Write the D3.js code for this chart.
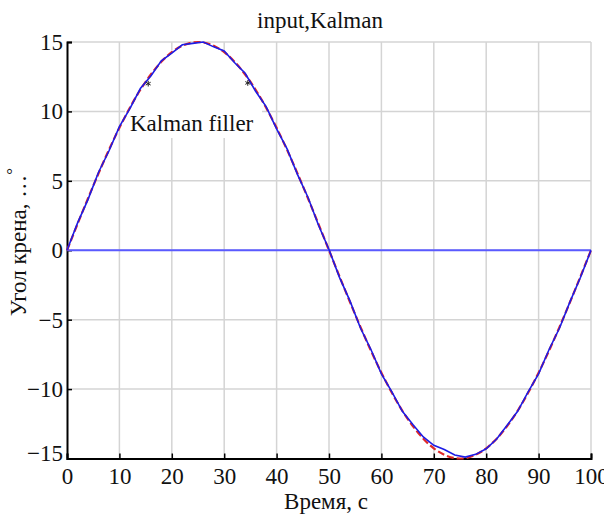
<!DOCTYPE html>
<html>
<head>
<meta charset="utf-8">
<script src="https://cdn.jsdelivr.net/npm/d3@7"></script>
<style>
  body { margin: 0; background: #fff; }
  text { font-family: "Liberation Serif", "Times New Roman", Times, serif; fill: #111; }
</style>
</head>
<body>
<div id="chart"></div>
<script>
(function(d3) {
  'use strict';

  // time, s (every 2 s)
  var times = [0, 2, 4, 6, 8, 10, 12, 14, 16, 18, 20, 22, 24, 26, 28, 30, 32, 34, 36, 38, 40,
               42, 44, 46, 48, 50, 52, 54, 56, 58, 60, 62, 64, 66, 68, 70, 72, 74, 76, 78, 80,
               82, 84, 86, 88, 90, 92, 94, 96, 98, 100];
  // input (red dashed)
  var input = [0, 1.88, 3.73, 5.52, 7.23, 8.82, 10.27, 11.56, 12.66, 13.57, 14.27, 14.73, 14.97, 14.97, 14.73, 14.27,
               13.57, 12.66, 11.56, 10.27, 8.82, 7.23, 5.52, 3.73, 1.88, 0, -1.88, -3.73, -5.52, -7.23, -8.82,
               -10.27, -11.56, -12.66, -13.57, -14.27, -14.73, -14.97, -14.97, -14.73, -14.27, -13.57, -12.66,
               -11.56, -10.27, -8.82, -7.23, -5.52, -3.73, -1.88, 0];
  // Kalman output (blue)
  var kalman = [0, 1.95, 3.65, 5.6, 7.15, 8.9, 10.2, 11.65, 12.55, 13.65, 14.2, 14.8, 14.9, 15.0, 14.65, 14.35,
                13.5, 12.75, 11.45, 10.35, 8.75, 7.3, 5.45, 3.8, 1.8, 0.05, -1.95, -3.65, -5.6, -7.15, -8.9,
                -10.2, -11.6, -12.55, -13.45, -14.05, -14.35, -14.75, -14.9, -14.7, -14.3, -13.6, -12.6,
                -11.6, -10.2, -8.9, -7.15, -5.6, -3.7, -1.95, 0];
  var zeroLine = [[0, 0], [100, 0]];
  var markers = [[15.5, 12.0], [34.5, 12.05]];
  var xTicks = [0, 10, 20, 30, 40, 50, 60, 70, 80, 90, 100];
  var yTicks = [-15, -10, -5, 0, 5, 10, 15];

  var width = 604, height = 515;
  var margin = {left: 67, right: 13, top: 42, bottom: 56};

  var svg = d3.select('#chart').append('svg')
      .attr('width', width)
      .attr('height', height);

  var x = d3.scaleLinear().domain([0, 100]).range([margin.left, width - margin.right]);
  var y = d3.scaleLinear().domain([-15, 15]).range([height - margin.bottom - 0.5, margin.top]);

  // grid
  svg.append('g')
    .selectAll('line')
    .data(xTicks.slice(1))
    .enter().append('line')
      .attr('x1', function(d) { return x(d); })
      .attr('x2', function(d) { return x(d); })
      .attr('y1', y(15))
      .attr('y2', y(-15))
      .attr('stroke', '#d4d4d4')
      .attr('stroke-width', 1.5);

  svg.append('g')
    .selectAll('line')
    .data(yTicks.slice(1))
    .enter().append('line')
      .attr('x1', x(0))
      .attr('x2', x(100))
      .attr('y1', function(d) { return y(d); })
      .attr('y2', function(d) { return y(d); })
      .attr('stroke', '#d4d4d4')
      .attr('stroke-width', 1.5);

  // white patch round the label
  svg.append('rect')
    .attr('x', 125).attr('y', 50)
    .attr('width', 137).attr('height', 88)
    .attr('fill', '#fff');

  // axes
  svg.append('g')
    .attr('transform', 'translate(0,' + y(-15) + ')')
    .call(d3.axisBottom(x).tickValues(xTicks).tickSize(-5).tickPadding(9).tickFormat(d3.format('d')))
    .call(function(g) {
      g.select('.domain').attr('stroke', '#000').attr('stroke-width', 2);
      g.selectAll('.tick line').attr('stroke', '#000').attr('stroke-width', 1.5);
      g.selectAll('.tick text')
        .attr('font-size', 23)
        .attr('fill', '#111');
    });

  svg.append('g')
    .attr('transform', 'translate(' + x(0) + ',0)')
    .call(d3.axisLeft(y).tickValues(yTicks).tickSize(-5).tickPadding(4)
      .tickFormat(function(d) { return d < 0 ? '\u2212' + Math.abs(d) : d; }))
    .call(function(g) {
      g.select('.domain').attr('stroke', '#000').attr('stroke-width', 2);
      g.selectAll('.tick line').attr('stroke', '#000').attr('stroke-width', 1.5);
      g.selectAll('.tick text')
        .attr('font-size', 23)
        .attr('fill', '#111')
        .attr('dy', function(d) { return d === -15 ? '0.1em' : '0.32em'; });
    });

  var line = d3.line()
      .x(function(d) { return x(d[0]); })
      .y(function(d) { return y(d[1]); });

  svg.append('path')
    .attr('d', line(zeroLine))
    .attr('fill', 'none')
    .attr('stroke', '#5a5aff')
    .attr('stroke-width', 2);

  svg.append('path')
    .attr('d', line.curve(d3.curveCatmullRom)(times.map(function(t, i) { return [t, input[i]]; })))
    .attr('fill', 'none')
    .attr('stroke', '#e02828')
    .attr('stroke-width', 2.2)
    .attr('stroke-dasharray', '7,3');

  svg.append('path')
    .attr('d', line.curve(d3.curveLinear)(times.map(function(t, i) { return [t, kalman[i]]; })))
    .attr('fill', 'none')
    .attr('stroke', '#1c1ce6')
    .attr('stroke-width', 1.6);

  svg.append('g')
    .selectAll('path')
    .data(markers)
    .enter().append('path')
      .attr('transform', function(d) { return 'translate(' + x(d[0]) + ',' + y(d[1]) + ')'; })
      .attr('d', d3.symbol().type(d3.symbolAsterisk).size(22))
      .attr('fill', 'none')
      .attr('stroke', '#222')
      .attr('stroke-width', 1);

  // texts
  svg.append('text')
    .attr('x', 320).attr('y', 28)
    .attr('text-anchor', 'middle')
    .attr('font-size', 23)
    .text('input,Kalman');

  svg.append('text')
    .attr('x', 130).attr('y', 131)
    .attr('font-size', 23)
    .text('Kalman filler');

  svg.append('text')
    .attr('x', 326).attr('y', 509)
    .attr('text-anchor', 'middle')
    .attr('font-size', 23)
    .text('Время, с');

  var ylab = svg.append('text')
    .attr('transform', 'translate(26,242) rotate(-90)')
    .attr('text-anchor', 'middle')
    .attr('font-size', 23);
  ylab.append('tspan').text('Угол крена, …');
  ylab.append('tspan').attr('dy', -8).attr('font-size', 17).text('°');
})(window.d3);
</script>
</body>
</html>
